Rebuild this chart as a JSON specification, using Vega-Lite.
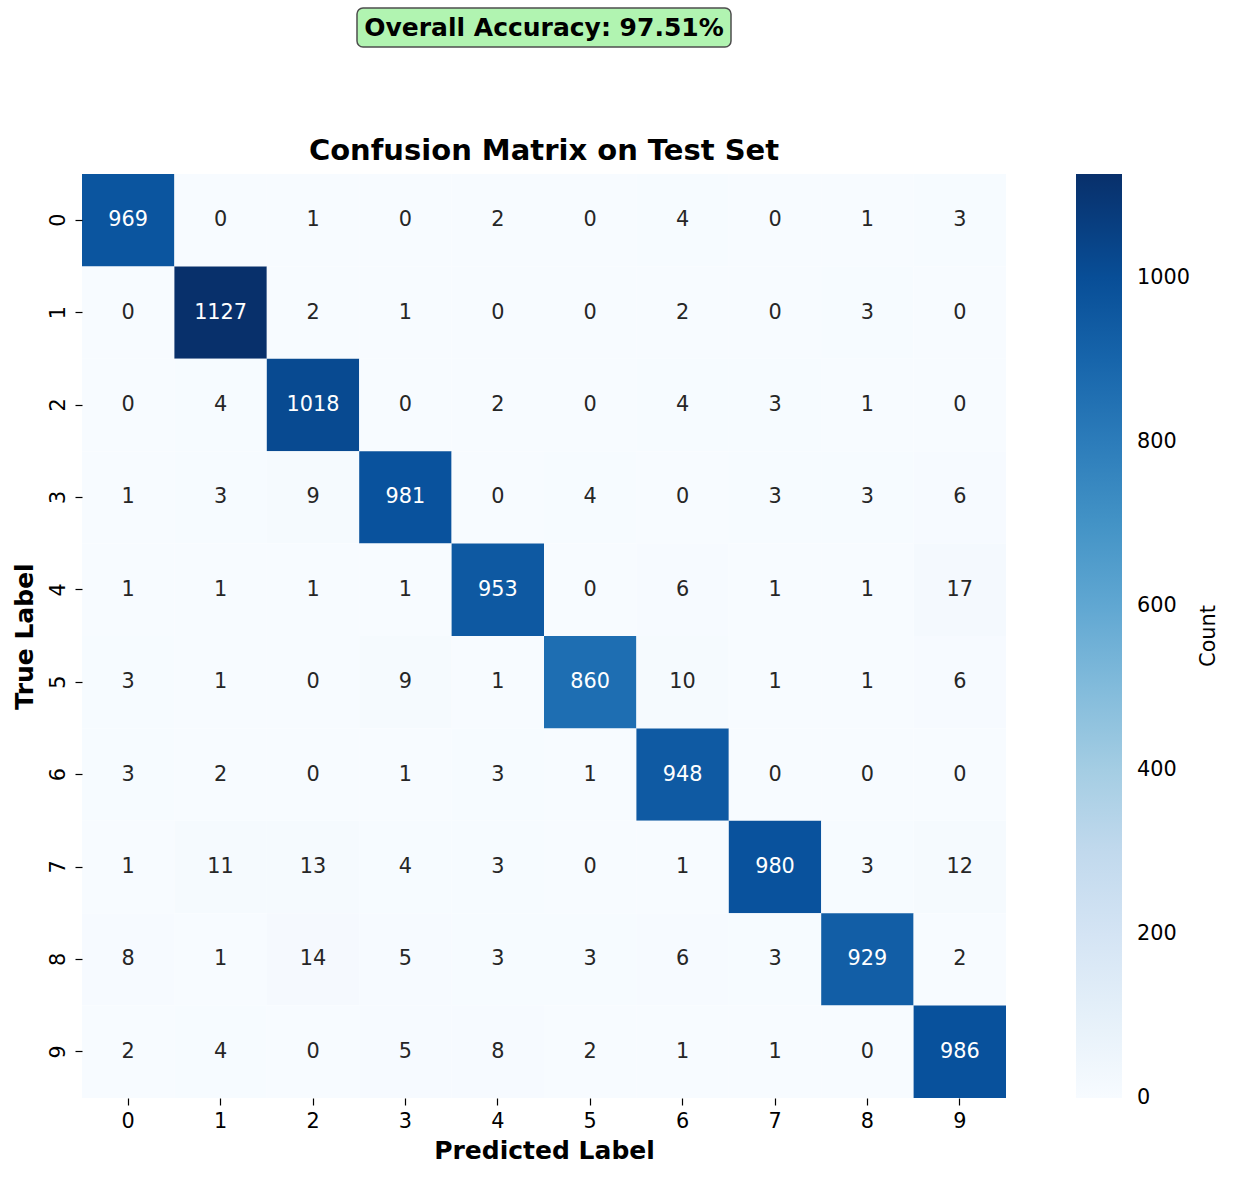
{
  "$schema": "https://vega.github.io/schema/vega-lite/v6.json",
  "padding": {"left": 11, "top": 7, "right": 0, "bottom": 0},
  "bounds": "flush",
  "center": true,
  "spacing": 127,
  "resolve": {"scale": {"color": "independent"}},
  "config": {
    "font": "DejaVu Sans",
    "view": {"stroke": null},
    "axis": {"domain": false, "grid": false, "labelFont": "DejaVu Sans", "labelFontSize": 20.8, "labelColor": "black", "tickColor": "black", "tickSize": 7, "tickWidth": 1.2, "labelPadding": 6, "titleFont": "DejaVu Sans", "titleFontSize": 25, "titleFontWeight": "bold", "titleColor": "black"},
    "title": {"font": "DejaVu Sans", "color": "black"}
  },
  "vconcat": [
    {
      "width": 374,
      "height": 39,
      "view": {"fill": "#b1f4b1", "stroke": "#4d4d4d", "strokeWidth": 1.5, "cornerRadius": 6},
      "data": {"values": [{"label": "Overall Accuracy: 97.51%"}]},
      "mark": {"type": "text", "fontSize": 25, "fontWeight": "bold", "color": "black", "align": "center", "baseline": "middle", "font": "DejaVu Sans"},
      "encoding": {"text": {"field": "label", "type": "nominal"}}
    },
    {
      "width": 924,
      "height": 924,
      "title": {"text": "Confusion Matrix on Test Set", "fontSize": 29, "fontWeight": "bold", "offset": 8},
      "data": {"values": [
        {"t":"0","p":"0","v":969},{"t":"0","p":"1","v":0},{"t":"0","p":"2","v":1},{"t":"0","p":"3","v":0},{"t":"0","p":"4","v":2},{"t":"0","p":"5","v":0},{"t":"0","p":"6","v":4},{"t":"0","p":"7","v":0},{"t":"0","p":"8","v":1},{"t":"0","p":"9","v":3},
        {"t":"1","p":"0","v":0},{"t":"1","p":"1","v":1127},{"t":"1","p":"2","v":2},{"t":"1","p":"3","v":1},{"t":"1","p":"4","v":0},{"t":"1","p":"5","v":0},{"t":"1","p":"6","v":2},{"t":"1","p":"7","v":0},{"t":"1","p":"8","v":3},{"t":"1","p":"9","v":0},
        {"t":"2","p":"0","v":0},{"t":"2","p":"1","v":4},{"t":"2","p":"2","v":1018},{"t":"2","p":"3","v":0},{"t":"2","p":"4","v":2},{"t":"2","p":"5","v":0},{"t":"2","p":"6","v":4},{"t":"2","p":"7","v":3},{"t":"2","p":"8","v":1},{"t":"2","p":"9","v":0},
        {"t":"3","p":"0","v":1},{"t":"3","p":"1","v":3},{"t":"3","p":"2","v":9},{"t":"3","p":"3","v":981},{"t":"3","p":"4","v":0},{"t":"3","p":"5","v":4},{"t":"3","p":"6","v":0},{"t":"3","p":"7","v":3},{"t":"3","p":"8","v":3},{"t":"3","p":"9","v":6},
        {"t":"4","p":"0","v":1},{"t":"4","p":"1","v":1},{"t":"4","p":"2","v":1},{"t":"4","p":"3","v":1},{"t":"4","p":"4","v":953},{"t":"4","p":"5","v":0},{"t":"4","p":"6","v":6},{"t":"4","p":"7","v":1},{"t":"4","p":"8","v":1},{"t":"4","p":"9","v":17},
        {"t":"5","p":"0","v":3},{"t":"5","p":"1","v":1},{"t":"5","p":"2","v":0},{"t":"5","p":"3","v":9},{"t":"5","p":"4","v":1},{"t":"5","p":"5","v":860},{"t":"5","p":"6","v":10},{"t":"5","p":"7","v":1},{"t":"5","p":"8","v":1},{"t":"5","p":"9","v":6},
        {"t":"6","p":"0","v":3},{"t":"6","p":"1","v":2},{"t":"6","p":"2","v":0},{"t":"6","p":"3","v":1},{"t":"6","p":"4","v":3},{"t":"6","p":"5","v":1},{"t":"6","p":"6","v":948},{"t":"6","p":"7","v":0},{"t":"6","p":"8","v":0},{"t":"6","p":"9","v":0},
        {"t":"7","p":"0","v":1},{"t":"7","p":"1","v":11},{"t":"7","p":"2","v":13},{"t":"7","p":"3","v":4},{"t":"7","p":"4","v":3},{"t":"7","p":"5","v":0},{"t":"7","p":"6","v":1},{"t":"7","p":"7","v":980},{"t":"7","p":"8","v":3},{"t":"7","p":"9","v":12},
        {"t":"8","p":"0","v":8},{"t":"8","p":"1","v":1},{"t":"8","p":"2","v":14},{"t":"8","p":"3","v":5},{"t":"8","p":"4","v":3},{"t":"8","p":"5","v":3},{"t":"8","p":"6","v":6},{"t":"8","p":"7","v":3},{"t":"8","p":"8","v":929},{"t":"8","p":"9","v":2},
        {"t":"9","p":"0","v":2},{"t":"9","p":"1","v":4},{"t":"9","p":"2","v":0},{"t":"9","p":"3","v":5},{"t":"9","p":"4","v":8},{"t":"9","p":"5","v":2},{"t":"9","p":"6","v":1},{"t":"9","p":"7","v":1},{"t":"9","p":"8","v":0},{"t":"9","p":"9","v":986}
      ]},
      "encoding": {
        "x": {"field": "p", "type": "ordinal", "title": "Predicted Label", "scale": {"paddingInner": 0, "paddingOuter": 0}, "axis": {"labelAngle": 0, "titlePadding": 8}},
        "y": {"field": "t", "type": "ordinal", "title": "True Label", "scale": {"paddingInner": 0, "paddingOuter": 0}, "axis": {"labelAngle": -90, "labelAlign": "center", "labelBaseline": "bottom", "labelPadding": 7, "titlePadding": 10}}
      },
      "layer": [
        {
          "mark": {"type": "rect", "strokeWidth": 0},
          "encoding": {
            "color": {
              "field": "v", "type": "quantitative",
              "scale": {"domain": [0, 140.875, 281.75, 422.625, 563.5, 704.375, 845.25, 986.125, 1127], "range": ["#f7fbff", "#deebf7", "#c6dbef", "#9ecae1", "#6baed6", "#4292c6", "#2171b5", "#08519c", "#08306b"], "interpolate": "rgb"},
              "legend": {"orient": "right", "offset": 70, "direction": "vertical", "gradientLength": 924, "gradientThickness": 46, "gradientStrokeWidth": 0, "values": [0, 200, 400, 600, 800, 1000], "format": "d", "labelFontSize": 20.8, "labelColor": "black", "labelOffset": 15, "labelBaseline": "middle", "labelOverlap": false, "title": "Count", "titleFontSize": 20.8, "titleFontWeight": "normal", "titleColor": "black", "titleOrient": "right", "titlePadding": 29,
                "encode": {"title": {"update": {"angle": {"value": 270}}}, "labels": {"update": {"baseline": {"value": "middle"}}}}}
            }
          }
        },
        {
          "mark": {"type": "text", "fontSize": 20.8, "font": "DejaVu Sans"},
          "encoding": {
            "text": {"field": "v", "type": "quantitative"},
            "color": {"condition": {"test": "datum.v > 500", "value": "white"}, "value": "#262626"}
          }
        }
      ]
    }
  ]
}
